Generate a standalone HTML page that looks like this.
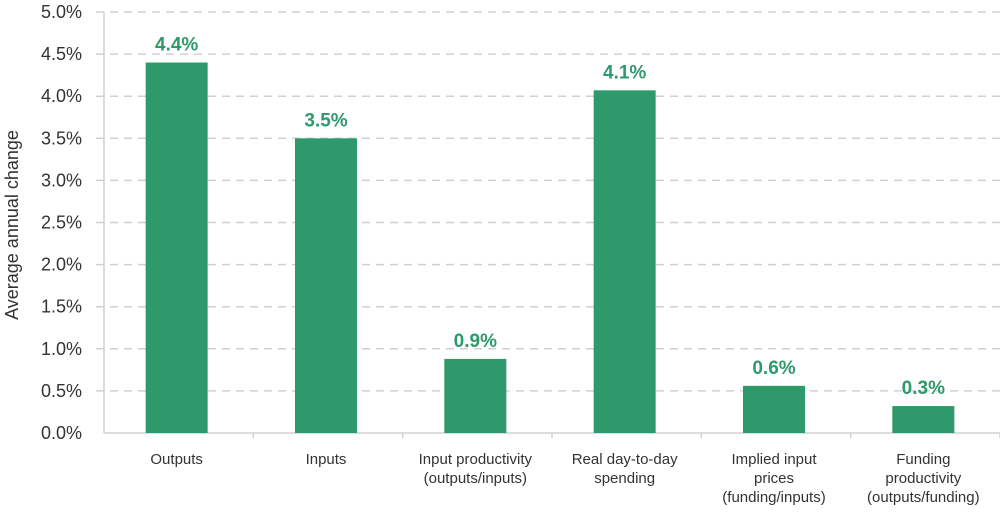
<!DOCTYPE html>
<html><head><meta charset="utf-8"><style>
html,body{margin:0;padding:0;background:#fff;}
svg text{font-family:"Liberation Sans",Arial,sans-serif;}
</style></head><body>
<svg id="chart" width="1000" height="510" xmlns="http://www.w3.org/2000/svg"></svg>
<script>
const categories=[["Outputs"],["Inputs"],["Input productivity","(outputs/inputs)"],["Real day-to-day","spending"],["Implied input","prices","(funding/inputs)"],["Funding","productivity","(outputs/funding)"]];
const values=[4.4,3.5,0.88,4.07,0.56,0.32];
const valueLabels=["4.4%","3.5%","0.9%","4.1%","0.6%","0.3%"];
const ticks=[0,0.5,1,1.5,2,2.5,3,3.5,4,4.5,5];
const tickLabels=["0.0%","0.5%","1.0%","1.5%","2.0%","2.5%","3.0%","3.5%","4.0%","4.5%","5.0%"];
const NS="http://www.w3.org/2000/svg";
const svg=document.getElementById('chart');
const x0=104,x1=1000,y0=433,yTop=12,ymax=5;
const bw=(x1-x0)/categories.length;
const y=v=>y0-(v/ymax)*(y0-yTop);
const xc=i=>x0+bw*(i+0.5)-2;
function mk(t,a){const e=document.createElementNS(NS,t);for(const k in a)e.setAttribute(k,a[k]);svg.appendChild(e);return e;}
ticks.forEach((t,i)=>{
  if(t>0){const g=mk('line',{x1:96,x2:1000,y1:y(t),y2:y(t),stroke:'#d0d0d0','stroke-width':1.5,'stroke-dasharray':'8,6'});
  
  }
  const l=mk('text',{x:82,y:y(t)+6,'text-anchor':'end','font-size':18,fill:'#333'});
  l.textContent=tickLabels[i];
  
  
});
const ax=mk('line',{x1:x0,x2:x0,y1:yTop,y2:y0,stroke:'#d0d0d0','stroke-width':1.5});


const bx=mk('line',{x1:x0,x2:x1,y1:y0,y2:y0,stroke:'#d0d0d0','stroke-width':1.5});


values.forEach((v,i)=>{
  const r=mk('rect',{x:xc(i)-31,y:y(v),width:62,height:y0-y(v),fill:'#2e9a6b'});
  
  
  const t=mk('text',{x:xc(i),y:y(v)-12,'text-anchor':'middle','font-size':19,'font-weight':'bold',fill:'#2e9a6b'});
  t.textContent=valueLabels[i];
  
  
  const tk=mk('line',{x1:x0+bw*(i+1),x2:x0+bw*(i+1),y1:y0,y2:y0+5,stroke:'#d0d0d0','stroke-width':1.5});
  
  
  categories[i].forEach((s,j)=>{
    const c=mk('text',{x:xc(i),y:464+j*19,'text-anchor':'middle','font-size':15,fill:'#333'});
    c.textContent=s;
    
    
  });
});
const yt=mk('text',{x:0,y:0,'text-anchor':'middle','font-size':18,fill:'#333',transform:'translate(18,225) rotate(-90)'});
yt.textContent='Average annual change';


</script>
</body></html>
